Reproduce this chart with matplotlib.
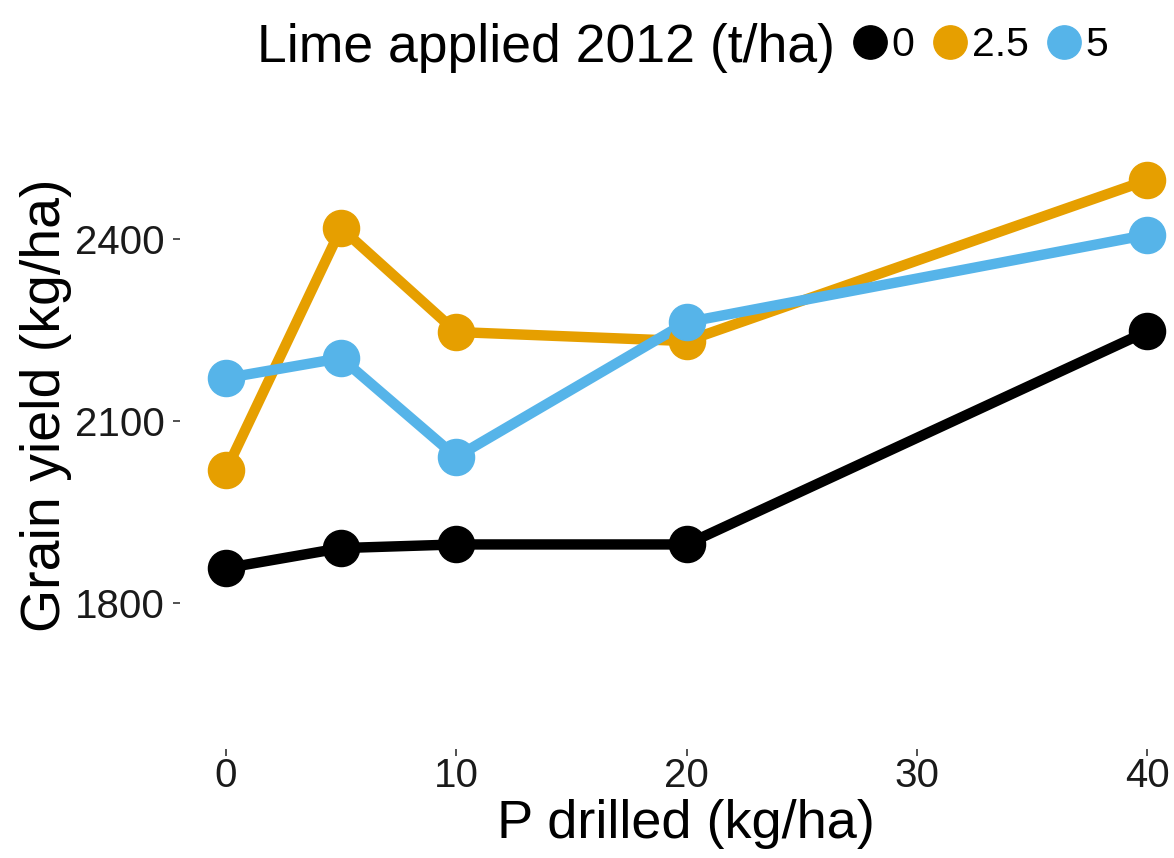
import matplotlib
matplotlib.use("Agg")
import matplotlib.pyplot as plt
from matplotlib.lines import Line2D

plt.rcParams['font.family'] = ['Liberation Sans', 'DejaVu Sans']

# Phosphorus rate drilled (kg/ha)
p_drilled = [0, 5, 10, 20, 40]

# Grain yield (kg/ha) for each lime rate applied in 2012
lime_levels = ["0", "2.5", "5"]
yield_lime_0 = [1858, 1891, 1897, 1897, 2248]
yield_lime_2_5 = [2019, 2418, 2247, 2232, 2497]
yield_lime_5 = [2171, 2204, 2041, 2263, 2407]

colors = ["#000000", "#E69F00", "#56B4E9"]
yticks = [1800, 2100, 2400]
xticks = [0, 10, 20, 30, 40]

W, H = 1174, 858
fig = plt.figure(figsize=(W / 100, H / 100), dpi=100)
px_per_unit = (1147 - 226) / 40.0
ax = fig.add_axes([180 / W, 109 / H, 994 / W, 607 / H])

series = [yield_lime_0, yield_lime_2_5, yield_lime_5]
for vals, col in zip(series, colors):
    ax.plot(p_drilled, vals, color=col, lw=7.5, solid_capstyle='butt', zorder=2)
for vals, col in zip(series, colors):
    ax.plot(p_drilled, vals, linestyle='none', marker='o', ms=26,
            markerfacecolor=col, markeredgecolor=col, zorder=3, clip_on=False)

ax.set_xlim(-2, -2 + 994 / px_per_unit)
ax.set_ylim(1560, 2560)
ax.set_xticks(xticks)
ax.set_xticklabels([str(v) for v in xticks])
ax.set_yticks(yticks)
ax.set_yticklabels([str(v) for v in yticks])
for s in ax.spines.values():
    s.set_visible(False)
ax.tick_params(axis='both', length=5, width=1.2, color='#333333',
               labelsize=29, labelcolor='#1a1a1a')
ax.tick_params(axis='x', pad=1)
ax.tick_params(axis='y', pad=6)

# Axis titles
fig.text(686 / W, 1 - 838 / H, "P drilled (kg/ha)", fontsize=39,
         ha='center', va='baseline')
fig.text(46 / W, 1 - 405 / H, "Grain yield (kg/ha)", fontsize=40,
         ha='center', va='center', rotation=90)

# Legend across the top: title then keys
fig.text(257 / W, 1 - 62 / H, "Lime applied 2012 (t/ha)", fontsize=38.5,
         ha='left', va='baseline')
handles = [Line2D([], [], linestyle='none', marker='o', ms=24,
                  markerfacecolor=c, markeredgecolor=c) for c in colors]
fig.legend(handles, lime_levels, loc='center left',
           bbox_to_anchor=(854 / W, 1 - 45 / H), ncol=3, frameon=False,
           fontsize=29.5, handletextpad=0.12, columnspacing=0.47,
           handlelength=0.8, borderaxespad=0, borderpad=0)

fig.savefig("out.png", dpi=100)
